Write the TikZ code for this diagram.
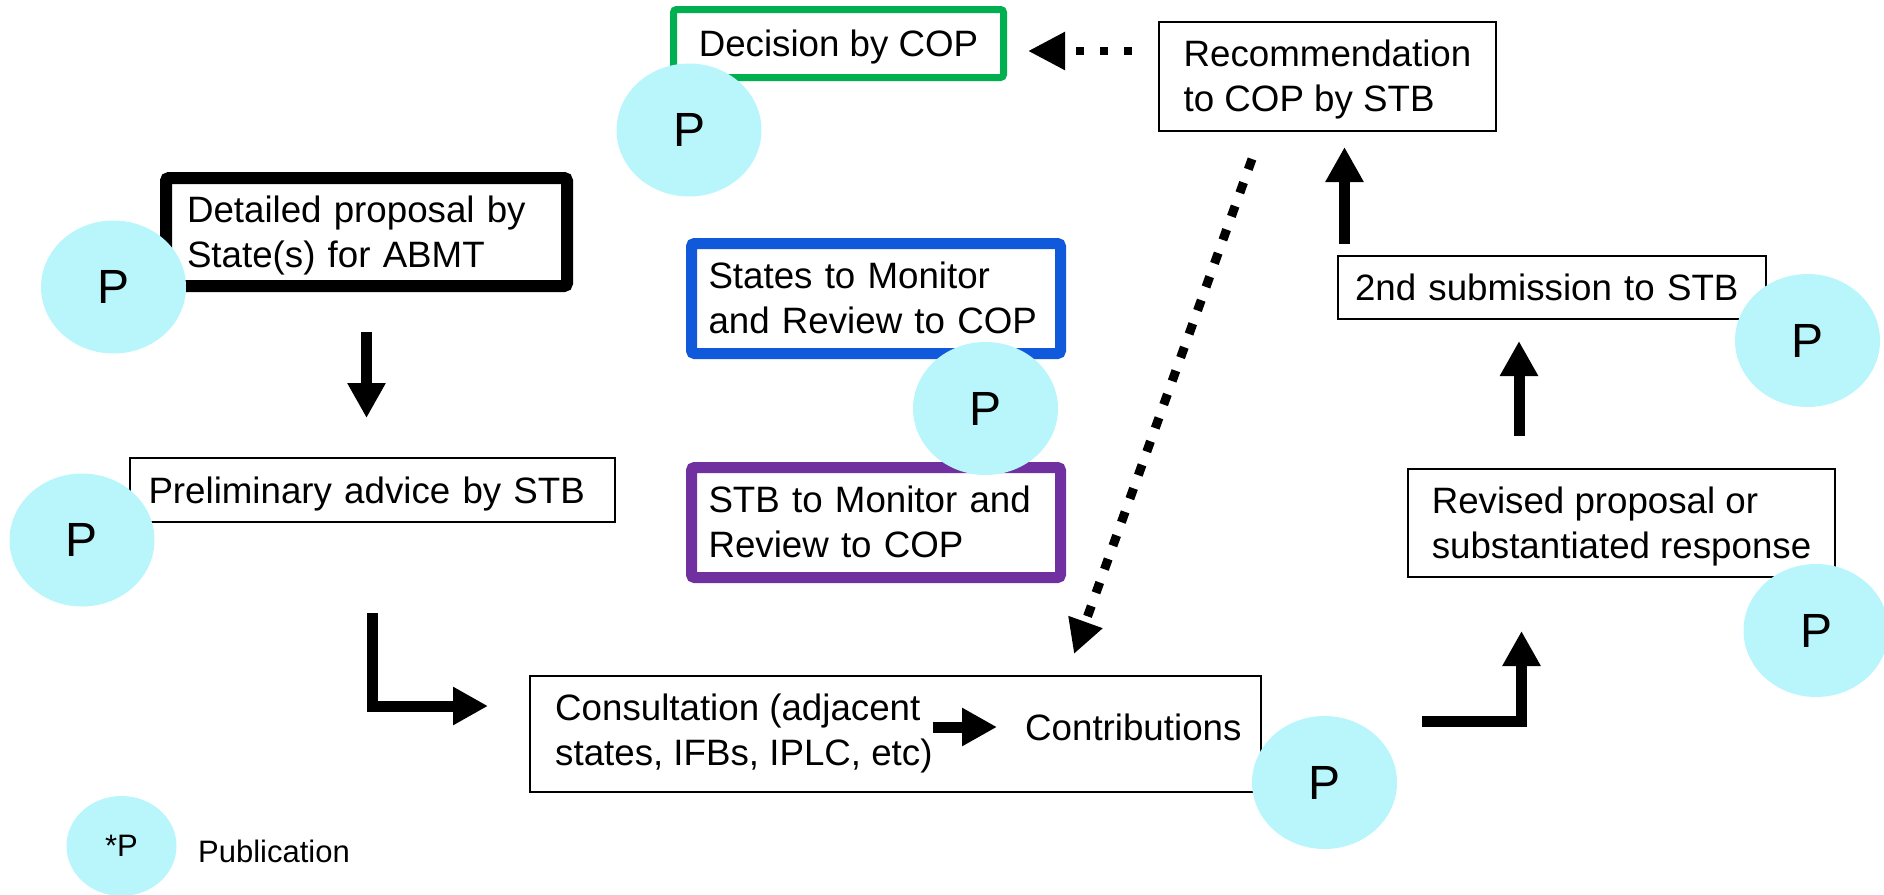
\documentclass[tikz,border=0pt]{standalone}
\usepackage{fontspec}
\setmainfont{Liberation Sans}
\usetikzlibrary{arrows.meta,shapes.geometric}
\definecolor{pubcyan}{RGB}{185,246,252}
\definecolor{decgreen}{RGB}{0,176,80}
\definecolor{stblue}{RGB}{16,89,219}
\definecolor{stbpurple}{RGB}{112,48,160}
\newcommand\mainfs{\fontsize{36.7pt}{45pt}\selectfont}
\newcommand\pfs{\fontsize{48pt}{52pt}\selectfont}
\newcommand\legfs{\fontsize{31pt}{36pt}\selectfont}
\tikzset{
  thinbox/.style={draw=black, line width=2pt, rectangle, inner sep=0pt, font=\mainfs, align=left},
  thickbox/.style={rectangle, rounded corners=3pt, inner sep=0pt, font=\mainfs, align=left},
  oneline/.style={text height=34pt, text depth=8pt},
  twoline/.style={text height=78pt, text depth=8pt},
  twolinetw/.style={text height=33pt, text depth=53pt},
  txt/.style={inner sep=0pt, font=\mainfs, align=left},
  pub/.style={ellipse, fill=pubcyan, minimum width=145pt, minimum height=133pt, inner sep=0pt, font=\pfs},
  bigarrow/.style={line width=11pt, -{Triangle[length=35pt,width=36pt]}},
  dotarrowh/.style={line width=8.5pt, dash pattern=on 8.5pt off 15.5pt, -{Triangle[length=37pt,width=36pt]}},
  dotarrowd/.style={line width=9pt, dash pattern=on 11pt off 14pt, -{Triangle[length=34pt,width=34pt]}},
}
\begin{document}
\begin{tikzpicture}[x=1pt,y=-1pt]
\useasboundingbox (0,0) rectangle (1884,894);

% boxes
\node[thickbox, oneline, draw=decgreen, line width=7pt, minimum width=330pt, minimum height=68pt] (dec) at (838.5,43.5) {Decision by COP};
\node[thinbox, twoline, minimum width=337pt, minimum height=109pt] (rec) at (1327.5,76.5) {Recommendation\\to COP by STB};
\node[thickbox, twolinetw, draw=black, line width=12pt, minimum width=401pt, minimum height=108pt, inner xsep=21pt, text width=359pt] (det) at (366.5,232) {Detailed proposal by\\State(s) for ABMT};
\node[thickbox, twolinetw, draw=stblue, line width=11pt, minimum width=369pt, minimum height=110pt, inner xsep=17pt, text width=335pt] (states) at (876,298.5) {States to Monitor\\and Review to COP};
\node[thickbox, twolinetw, draw=stbpurple, line width=11pt, minimum width=369pt, minimum height=110pt, inner xsep=17pt, text width=335pt] (stbmon) at (876,522.5) {STB to Monitor and\\Review to COP};
\node[thinbox, oneline, minimum width=485pt, minimum height=64pt, inner xsep=18.5pt, text width=448pt] (prelim) at (372.5,490) {Preliminary advice by STB};
\node[thinbox, minimum width=731pt, minimum height=116pt] (consult) at (895.5,734) {};
\node[txt, twoline, anchor=west] (ctext) at (555,730) {Consultation (adjacent\\states, IFBs, IPLC, etc)};
\node[txt, oneline, anchor=west] (contrib) at (1025,727) {Contributions};
\node[thinbox, oneline, minimum width=428pt, minimum height=63pt, inner xsep=17pt, text width=394pt] (sub2) at (1552,287.5) {2nd submission to STB};
\node[thinbox, twoline, minimum width=427pt, minimum height=108pt] (rev) at (1621.5,523) {Revised proposal or\\substantiated response};

% arrows
\draw[bigarrow, shorten <=40pt, shorten >=39pt] (det.south) -- (det.south |- prelim.north);
\draw[bigarrow] ([yshift=-90pt]prelim.south) |- ([xshift=-41pt,yshift=28pt]consult.west);
\draw[bigarrow, shorten >=28pt] (ctext.east |- contrib.west) -- (contrib.west);
\draw[bigarrow] ([xshift=160pt,yshift=13pt]consult.east) -| ([xshift=-100pt,yshift=-53pt]rev.south);
\coordinate (a5) at ([xshift=-102.5pt]rev.north);
\draw[bigarrow, shorten <=32pt, shorten >=21pt] (a5) -- (a5 |- sub2.south);
\coordinate (a6) at ([xshift=17pt]rec.south);
\draw[bigarrow, shorten <=11pt, shorten >=15pt] (a6 |- sub2.north) -- (a6);
\coordinate (a7) at ([yshift=25.5pt]rec.west);
\draw[dotarrowh, shorten <=26pt, shorten >=21pt] (a7) -- (a7 -| dec.east);
\draw[dotarrowd] ([xshift=-75.5pt,yshift=-27pt]rec.south) -- ([xshift=178.5pt,yshift=21pt]consult.north);

% publication markers
\node[pub] (pdec) at (689,130) {P};
\node[pub] (pdet) at (113.5,287) {P};
\node[pub] (ppre) at (82,540) {P};
\node[pub] (pstates) at (985.5,408.5) {P};
\node[pub] (pcon) at (1324.5,782.5) {P};
\node[pub] (psub) at (1807.5,340.5) {P};
\node[pub] (prv) at (1816,630.5) {P};

% legend
\node[pub, minimum width=110pt, minimum height=100pt, font=\legfs] (leg) at (121.5,846) {*P};
\node[inner sep=0pt, anchor=west, font=\legfs] (legtxt) at (198,851) {Publication};
\end{tikzpicture}
\end{document}
